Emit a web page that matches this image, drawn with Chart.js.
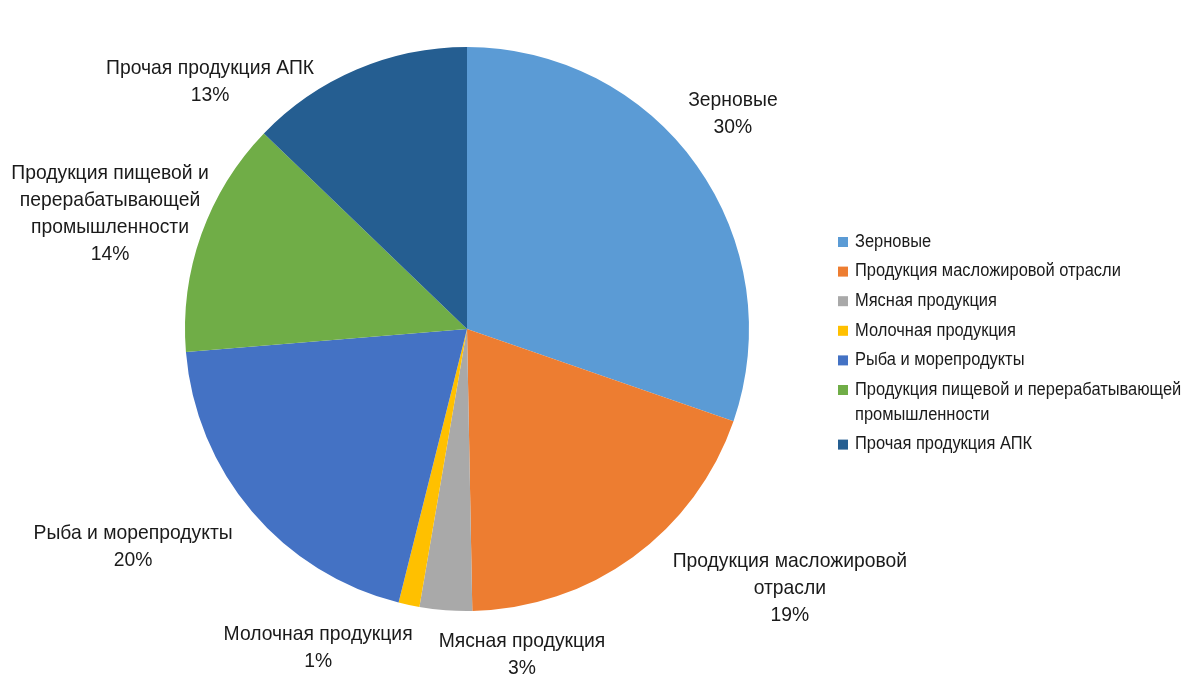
<!DOCTYPE html>
<html lang="ru">
<head>
<meta charset="utf-8">
<title>Структура продукции АПК</title>
<script src="https://cdn.jsdelivr.net/npm/chart.js@4/dist/chart.umd.min.js"></script>
<style>
  html, body { margin: 0; padding: 0; background: #fff; }
  #wrap { position: relative; width: 1200px; height: 700px; }
</style>
</head>
<body>
<div id="wrap"><canvas id="pieChart" width="1200" height="700"></canvas></div>
<script>
const categories = [
  "Зерновые",
  "Продукция масложировой отрасли",
  "Мясная продукция",
  "Молочная продукция",
  "Рыба и морепродукты",
  "Продукция пищевой и перерабатывающей промышленности",
  "Прочая продукция АПК",
];
// shares in %, read from the slice edges (labels show them rounded)
const shares = [30.3, 19.4, 3.0, 1.2, 19.8, 13.5, 12.8];

// how the category names wrap in the slice labels and in the legend
const labelLines = [
  ["Зерновые"],
  ["Продукция масложировой", "отрасли"],
  ["Мясная продукция"],
  ["Молочная продукция"],
  ["Рыба и морепродукты"],
  ["Продукция пищевой и", "перерабатывающей", "промышленности"],
  ["Прочая продукция АПК"],
];
const legendLines = [
  ["Зерновые"],
  ["Продукция масложировой отрасли"],
  ["Мясная продукция"],
  ["Молочная продукция"],
  ["Рыба и морепродукты"],
  ["Продукция пищевой и перерабатывающей", "промышленности"],
  ["Прочая продукция АПК"],
];

const colors = ["#5b9bd5", "#ed7d31", "#a9a9a9", "#ffc000", "#4472c4", "#70ad47", "#255e91"];

// label block centre, as offset from the pie centre in units of the radius
const labelPos = [
  [0.943, -0.764],
  [1.145, 0.918],
  [0.195, 1.154],
  [-0.528, 1.129],
  [-1.184, 0.771],
  [-1.266, -0.408],
  [-0.911, -0.878],
];

const FONT = "'Liberation Sans', Arial, sans-serif";

function narrowText(ctx, text, x, y, sx) {
  ctx.save();
  ctx.translate(x, y);
  ctx.scale(sx, 1);
  ctx.fillText(text, 0, 0);
  ctx.restore();
}

const sliceLabels = {
  id: "sliceLabels",
  afterDatasetsDraw(chart) {
    const ctx = chart.ctx;
    const meta = chart.getDatasetMeta(0);
    ctx.save();
    ctx.fillStyle = "#1a1a1a";
    ctx.font = "21px " + FONT;
    ctx.textAlign = "center";
    ctx.textBaseline = "middle";
    meta.data.forEach((arc, i) => {
      const r = arc.outerRadius;
      const lines = labelLines[i].concat([Math.round(shares[i]) + "%"]);
      const lh = 27;
      const cx = arc.x + labelPos[i][0] * r;
      const cy = arc.y + labelPos[i][1] * r;
      const top = cy - ((lines.length - 1) * lh) / 2;
      lines.forEach((t, k) => narrowText(ctx, t, cx, top + k * lh, 0.92));
    });
    ctx.restore();
  },
};

const sideLegend = {
  id: "sideLegend",
  afterDraw(chart) {
    const ctx = chart.ctx;
    ctx.save();
    ctx.font = "17.5px " + FONT;
    ctx.textBaseline = "middle";
    ctx.textAlign = "left";
    let y = 242;
    categories.forEach((c, i) => {
      ctx.fillStyle = colors[i];
      ctx.fillRect(838, y - 5, 10, 10);
      ctx.fillStyle = "#1a1a1a";
      legendLines[i].forEach((t, k) => {
        narrowText(ctx, t, 855, y, 0.94);
        if (k < legendLines[i].length - 1) y += 25;
      });
      y += 29.6;
    });
    ctx.restore();
  },
};

new Chart(document.getElementById("pieChart"), {
  type: "pie",
  data: {
    labels: categories,
    datasets: [
      {
        data: shares,
        backgroundColor: colors,
        borderWidth: 0,
      },
    ],
  },
  options: {
    responsive: false,
    animation: false,
    layout: { padding: { left: 185, right: 451, top: 47, bottom: 89 } },
    plugins: {
      legend: { display: false },
      tooltip: { enabled: false },
    },
  },
  plugins: [sliceLabels, sideLegend],
});
</script>
</body>
</html>
